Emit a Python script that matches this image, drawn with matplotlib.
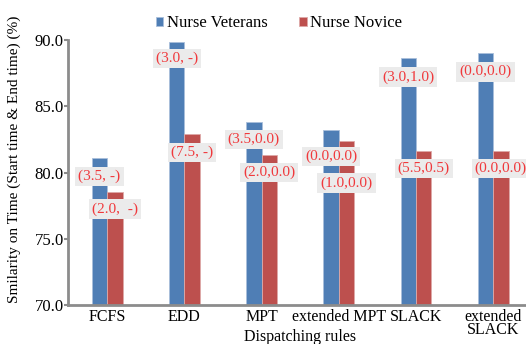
import matplotlib
matplotlib.use("Agg")
import matplotlib.pyplot as plt
import numpy as np

# === Data ===
rules = ["FCFS", "EDD", "MPT", "extended MPT", "SLACK", "extended\nSLACK"]
veterans = [81.1, 89.85, 83.8, 83.2, 88.6, 89.0]
novice = [78.5, 82.9, 81.3, 82.4, 81.6, 81.6]
vet_labels = ["(3.5, -)", "(3.0, -)", "(3.5,0.0)", "(0.0,0.0)", "(3.0,1.0)", "(0.0,0.0)"]
nov_labels = ["(2.0,  -)", "(7.5, -)", "(2.0,0.0)", "(1.0,0.0)", "(5.5,0.5)", "(0.0,0.0)"]

# label drop below bar top (data units)
vet_drop = [1.4, 1.25, 1.3, 2.0, 1.4, 1.4]
nov_drop = [1.25, 1.4, 1.3, 3.2, 1.3, 1.3]

blue = "#4F7EB5"
red = "#BD504E"
gray = "#8C8C8C"

plt.rcParams['font.family'] = ['Liberation Serif', 'DejaVu Serif']

fig = plt.figure(figsize=(5.26, 3.44), dpi=100)
ax = fig.add_axes([0.129, 0.113, 0.882, 0.771])

x = np.arange(len(rules))
w = 0.2
ax.bar(x - w / 2, veterans, w, color=blue, edgecolor="#A9BFDB", linewidth=0.6,
       label="Nurse Veterans", zorder=2)
ax.bar(x + w / 2, novice, w, color=red, edgecolor="#DDA9A8", linewidth=0.6,
       label="Nurse Novice", zorder=2)

box = dict(boxstyle="square,pad=0.2", fc="#EBEBEB", ec="none")
for i in range(len(rules)):
    ax.text(x[i] - w / 2, veterans[i] - vet_drop[i], vet_labels[i], ha="center", va="center",
            color="#F0393C", fontsize=11, bbox=box, zorder=3)
    ax.text(x[i] + w / 2, novice[i] - nov_drop[i], nov_labels[i], ha="center", va="center",
            color="#F0393C", fontsize=11, bbox=box, zorder=3)

ax.set_ylim(70, 90)
ax.set_xlim(-0.51, 5.5)
ax.set_yticks([70, 75, 80, 85, 90])
ax.set_yticklabels([f"{v:.1f}" for v in [70, 75, 80, 85, 90]], fontsize=12)
ax.set_xticks(x)
ax.set_xticklabels(rules, fontsize=11.5, linespacing=0.75)
ax.tick_params(axis="x", length=0, pad=3)
ax.tick_params(axis="y", length=3, width=1.5, color=gray, pad=0)

for s in ["top", "right"]:
    ax.spines[s].set_visible(False)
for s in ["left", "bottom"]:
    ax.spines[s].set_color(gray)
    ax.spines[s].set_linewidth(2)

ax.set_ylabel("Smilarity on Time (Start time & End time) (%)", fontsize=11)
ax.yaxis.set_label_coords(-0.1, 0.55)
ax.set_xlabel("Dispatching rules", fontsize=11.5, labelpad=-7)

ax.legend(loc="upper center", bbox_to_anchor=(0.455, 1.15), ncol=2, frameon=False,
          fontsize=12, handlelength=0.45, handleheight=0.45, handletextpad=0.2,
          columnspacing=1.9)

fig.savefig("out.png", dpi=100)
